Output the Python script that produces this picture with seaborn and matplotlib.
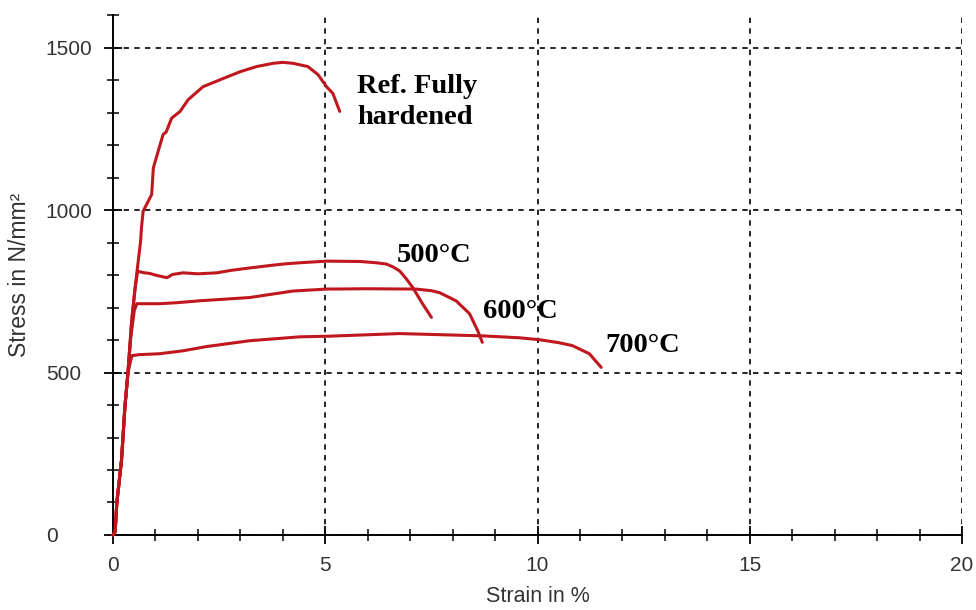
import matplotlib
matplotlib.use("Agg")
import matplotlib.pyplot as plt
from matplotlib.ticker import MultipleLocator
import seaborn as sns

# Tensile test curves: strain in %, stress in N/mm²
ref_strain = [0, 0.05, 0.09, 0.2, 0.28, 0.35, 0.44, 0.52, 0.6, 0.65, 0.67, 0.71, 0.8, 0.91,
              0.95, 1.05, 1.11, 1.18, 1.25, 1.38, 1.58, 1.77, 2.12, 2.59, 2.99, 3.38, 3.77,
              4.0, 4.24, 4.59, 4.83, 5.03, 5.18, 5.34]
ref_stress = [0, 10, 100, 230, 394, 497, 660, 760, 850, 905, 946, 997, 1020, 1048,
              1130, 1175, 1202, 1233, 1240, 1283, 1304, 1340, 1380, 1405, 1426, 1442, 1452,
              1455, 1452, 1442, 1417, 1380, 1359, 1304]

t500_strain = [0, 0.05, 0.09, 0.2, 0.28, 0.35, 0.44, 0.52, 0.58, 0.7, 0.87, 1.0, 1.27, 1.4,
               1.65, 2.0, 2.44, 2.8, 3.22, 3.6, 4.0, 4.4, 5.03, 5.81, 6.2, 6.44, 6.6, 6.75,
               6.9, 7.06, 7.29, 7.5]
t500_stress = [0, 10, 100, 230, 394, 497, 660, 760, 812, 808, 805, 800, 792, 802,
               807, 804, 807, 815, 822, 828, 834, 838, 843, 842, 838, 834, 825, 813,
               790, 762, 712, 670]

t600_strain = [0, 0.05, 0.09, 0.2, 0.28, 0.35, 0.42, 0.5, 0.56, 0.6, 1.1, 1.5, 2.05, 3.22,
               4.24, 5.03, 5.97, 7.14, 7.5, 7.69, 8.08, 8.4, 8.59, 8.7]
t600_stress = [0, 10, 100, 230, 394, 497, 610, 690, 712, 712, 712, 715, 721, 731,
               751, 757, 758, 757, 752, 746, 721, 681, 629, 593]

t700_strain = [0, 0.05, 0.09, 0.2, 0.28, 0.35, 0.42, 0.45, 0.6, 1.1, 1.65, 2.2, 3.22, 4.4,
               5.1, 6.75, 8.7, 9.58, 10.05, 10.5, 10.82, 11.22, 11.5]
t700_stress = [0, 10, 100, 230, 394, 497, 540, 552, 555, 558, 567, 580, 598, 610,
               612, 620, 613, 607, 601, 592, 583, 558, 516]

curve_labels = ["Ref. Fully\nhardened", "500°C", "600°C", "700°C"]
label_x = [5.75, 6.69, 8.72, 11.59]
label_y = [1266, 839, 667, 562]

x_ticks = [0, 5, 10, 15, 20]
y_ticks = [0, 500, 1000, 1500]

sns.set_style("ticks")
plt.rcParams["font.family"] = ["Liberation Sans", "DejaVu Sans"]

fig = plt.figure(figsize=(9.76, 6.1), dpi=100)
ax = fig.add_axes([0.1158, 0.123, 0.8699, 0.852])

line_color = "#c0171e"
curves = [(ref_strain, ref_stress), (t500_strain, t500_stress),
          (t600_strain, t600_stress), (t700_strain, t700_stress)]
for xs, ys in curves:
    sns.lineplot(x=xs, y=ys, ax=ax, sort=False, estimator=None, color=line_color,
                 linewidth=2.2, clip_on=False, zorder=3)

ax.set_xlim(0, 20)
ax.set_ylim(0, 1600)
ax.set_xticks(x_ticks)
ax.set_yticks(y_ticks)
ax.xaxis.set_minor_locator(MultipleLocator(1))
ax.yaxis.set_minor_locator(MultipleLocator(100))

sns.despine(ax=ax, top=True, right=True)
for side in ("left", "bottom"):
    ax.spines[side].set_color("black")
    ax.spines[side].set_linewidth(1.4)

ax.tick_params(which="major", direction="inout", length=13, width=1.3, color="black",
               labelsize=15, labelcolor="#333333")
ax.tick_params(which="minor", direction="inout", length=8, width=1.1, color="black")
ax.tick_params(axis="x", which="major", pad=9)
ax.tick_params(axis="y", which="major", pad=42)
for lab in ax.get_yticklabels():
    lab.set_horizontalalignment("left")

ax.grid(True, which="major", color="black", linestyle=(0, (3.2, 3.2)), linewidth=1.2)
ax.set_axisbelow(True)

ax.set_xlabel("Strain in %", fontsize=15.5, color="#333333")
ax.set_ylabel("Stress in N/mm²", fontsize=16.5, color="#333333")
ax.xaxis.set_label_coords(0.5, -0.119)
ax.xaxis.label.set_verticalalignment("center")
ax.yaxis.set_label_coords(-0.11, 0.5)
ax.yaxis.label.set_verticalalignment("center")

for txt, tx, ty in zip(curve_labels, label_x, label_y):
    ax.text(tx, ty, txt, family=["Liberation Serif", "DejaVu Serif"], fontweight="bold",
            fontsize=20.5, color="black", ha="left", va="baseline", linespacing=1.3,
            zorder=4)

fig.savefig("out.png", dpi=100, facecolor="white")
